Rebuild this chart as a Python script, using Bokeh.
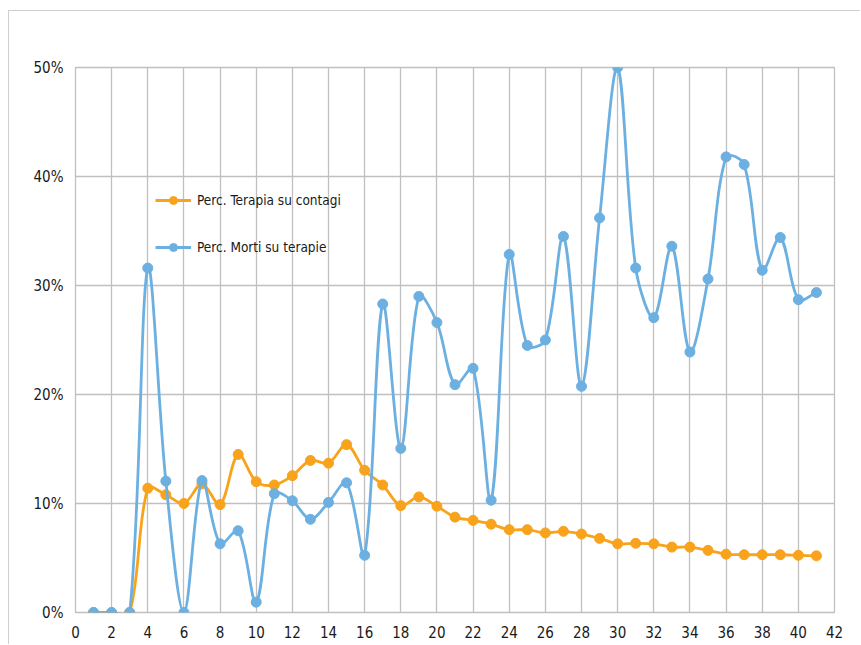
import numpy as np
from bokeh.plotting import figure
from bokeh.models import (ColumnDataSource, Legend, LegendItem, FixedTicker,
                          CustomJSTickFormatter, Range1d)
from bokeh.embed import file_html
from bokeh.resources import INLINE

# ---- data ----
days = list(range(1, 42))
terapia_su_contagi = [0, 0, 0, 11.4, 10.8, 10.0, 11.8, 9.9, 14.5, 12.0,
                      11.7, 12.55, 13.95, 13.7, 15.4, 13.05, 11.7, 9.8, 10.6, 9.75,
                      8.75, 8.45, 8.1, 7.6, 7.6, 7.3, 7.45, 7.2, 6.8, 6.3,
                      6.35, 6.3, 6.0, 6.0, 5.7, 5.35, 5.3, 5.3, 5.3, 5.25,
                      5.2]
morti_su_terapie = [0, 0, 0, 31.6, 12.05, 0, 12.1, 6.3, 7.5, 0.95,
                    10.9, 10.25, 8.55, 10.1, 11.9, 5.25, 28.3, 15.05, 29.0, 26.6,
                    20.9, 22.4, 10.3, 32.85, 24.5, 25.0, 34.5, 20.75, 36.2, 50.0,
                    31.6, 27.05, 33.6, 23.9, 30.6, 41.8, 41.1, 31.4, 34.4, 28.7,
                    29.35]
x_ticks = list(range(0, 43, 2))
y_ticks = [0, 10, 20, 30, 40, 50]
labels = ["Perc. Terapia su contagi", "Perc. Morti su terapie"]

ORANGE = "#f8a31b"
BLUE = "#6cb0e2"
GRID = "#c0c0c0"
FONT = "DejaVu Sans Condensed"

W, H = 852, 634
BL, BR, BT, BB = 66, 27, 56, 33
SX = (W - BL - BR) / 42.0   # px per x unit
SY = (H - BT - BB) / 50.0   # px per percent


def smooth_segments(xs, ys):
    """Excel-like smoothed line: cubic Bezier control points from neighbours."""
    xs = np.asarray(xs, float)
    ys = np.asarray(ys, float)
    n = len(xs)

    def dist(i, j):
        return np.hypot((xs[i] - xs[j]) * SX, (ys[i] - ys[j]) * SY)

    out = {k: [] for k in ("x0", "y0", "x1", "y1", "cx0", "cy0", "cx1", "cy1")}
    for i in range(n - 1):
        a, b, c, d = max(i - 1, 0), i, i + 1, min(i + 2, n - 1)
        d_ab, d_bc, d_cd = dist(a, b), dist(b, c), dist(c, d)
        f1 = d_bc / (d_ab + d_bc) / 3.0 if d_ab + d_bc > 0 else 0
        f2 = d_bc / (d_bc + d_cd) / 3.0 if d_bc + d_cd > 0 else 0
        out["x0"].append(xs[b]); out["y0"].append(ys[b])
        out["x1"].append(xs[c]); out["y1"].append(ys[c])
        out["cx0"].append(xs[b] + (xs[c] - xs[a]) * f1)
        out["cy0"].append(ys[b] + (ys[c] - ys[a]) * f1)
        out["cx1"].append(xs[c] - (xs[d] - xs[b]) * f2)
        out["cy1"].append(ys[c] - (ys[d] - ys[b]) * f2)
    return ColumnDataSource(out)


p = figure(width=W, height=H, output_backend="svg", toolbar_location=None,
           x_range=Range1d(0, 42), y_range=Range1d(0, 50),
           min_border_left=BL, min_border_right=BR, min_border_top=BT, min_border_bottom=BB)
p.styles = {"border-top": "1px solid #cfcfcf", "border-left": "1px solid #cfcfcf",
            "margin-left": "8px", "margin-top": "10px"}

p.background_fill_color = "white"
p.border_fill_color = "white"
p.outline_line_color = GRID
p.outline_line_width = 1.3

for ax in (p.xaxis[0], p.yaxis[0]):
    ax.axis_line_color = None
    ax.major_tick_line_color = None
    ax.minor_tick_line_color = None
    ax.major_tick_out = 0
    ax.major_tick_in = 0
    ax.major_label_text_font = FONT
    ax.major_label_text_font_size = "15px"
    ax.major_label_text_color = "#1a1a1a"
p.xaxis[0].ticker = FixedTicker(ticks=x_ticks)
p.yaxis[0].ticker = FixedTicker(ticks=y_ticks)
p.yaxis[0].formatter = CustomJSTickFormatter(code="return tick + '%';")
p.xaxis[0].major_label_standoff = 13
p.yaxis[0].major_label_standoff = 12

p.xgrid.ticker = FixedTicker(ticks=x_ticks)
p.ygrid.ticker = FixedTicker(ticks=y_ticks)
p.grid.grid_line_color = GRID
p.grid.grid_line_width = 1.3

legend_items = []
for ys, color, label in ((terapia_su_contagi, ORANGE, labels[0]),
                         (morti_su_terapie, BLUE, labels[1])):
    src = ColumnDataSource(dict(x=days, y=ys))
    p.bezier(x0="x0", y0="y0", x1="x1", y1="y1", cx0="cx0", cy0="cy0",
             cx1="cx1", cy1="cy1", source=smooth_segments(days, ys),
             line_color=color, line_width=2.8)
    leg_line = p.line("x", "y", source=src, line_color=color, line_width=2.8, visible=False)
    pts = p.scatter("x", "y", source=src, size=10, fill_color=color, line_color=color)
    legend_items.append(LegendItem(label=label, renderers=[leg_line, pts]))

legend = Legend(items=legend_items, location=(80, 355), orientation="vertical",
                glyph_width=36, glyph_height=20, label_height=20, spacing=27,
                padding=0, margin=0, label_standoff=6,
                border_line_color=None, background_fill_alpha=0,
                label_text_font=FONT, label_text_font_size="13.5px",
                label_text_color="#1a1a1a")
p.add_layout(legend)

open("out.html", "w").write(file_html(p, INLINE))
